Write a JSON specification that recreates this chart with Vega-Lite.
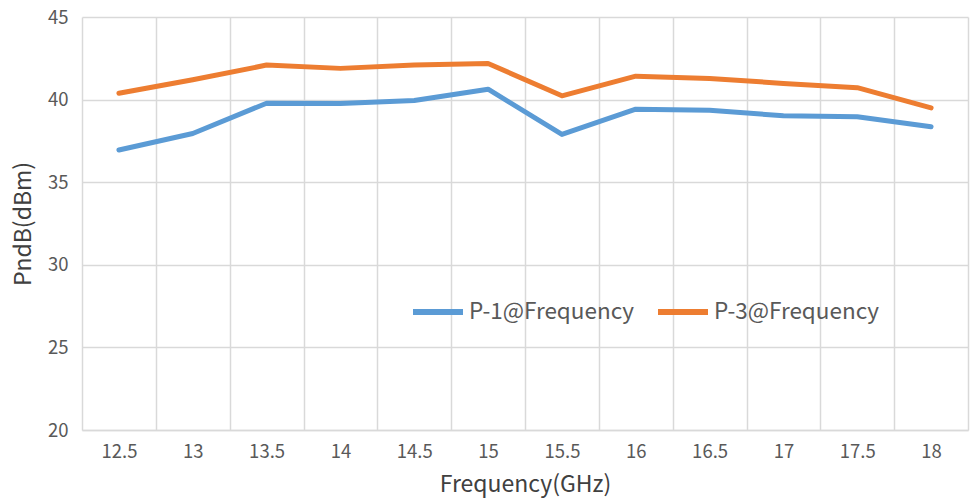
{
  "$schema": "https://vega.github.io/schema/vega-lite/v6.json",
  "autosize": "none",
  "width": 886,
  "height": 413,
  "padding": {"left": 82, "top": 17, "right": 2, "bottom": 71},
  "background": "white",
  "config": {
    "view": {"stroke": null},
    "font": "Noto Sans CJK SC",
    "axis": {"labelFont": "Noto Sans CJK SC", "titleFont": "Noto Sans CJK SC", "labelColor": "#595959", "titleColor": "#404040", "gridColor": "#d9d9d9", "gridWidth": 1.5, "domainColor": "#d9d9d9", "domainWidth": 1.5, "ticks": false}
  },
  "data": {
    "values": [
      {"freq": "12.5", "series": "P-1@Frequency", "value": 36.95},
      {"freq": "13", "series": "P-1@Frequency", "value": 37.95},
      {"freq": "13.5", "series": "P-1@Frequency", "value": 39.78},
      {"freq": "14", "series": "P-1@Frequency", "value": 39.77},
      {"freq": "14.5", "series": "P-1@Frequency", "value": 39.95},
      {"freq": "15", "series": "P-1@Frequency", "value": 40.63},
      {"freq": "15.5", "series": "P-1@Frequency", "value": 37.89},
      {"freq": "16", "series": "P-1@Frequency", "value": 39.42},
      {"freq": "16.5", "series": "P-1@Frequency", "value": 39.36},
      {"freq": "17", "series": "P-1@Frequency", "value": 39.02},
      {"freq": "17.5", "series": "P-1@Frequency", "value": 38.96},
      {"freq": "18", "series": "P-1@Frequency", "value": 38.36},
      {"freq": "12.5", "series": "P-3@Frequency", "value": 40.38},
      {"freq": "13", "series": "P-3@Frequency", "value": 41.2},
      {"freq": "13.5", "series": "P-3@Frequency", "value": 42.09},
      {"freq": "14", "series": "P-3@Frequency", "value": 41.89},
      {"freq": "14.5", "series": "P-3@Frequency", "value": 42.09},
      {"freq": "15", "series": "P-3@Frequency", "value": 42.19},
      {"freq": "15.5", "series": "P-3@Frequency", "value": 40.23},
      {"freq": "16", "series": "P-3@Frequency", "value": 41.42},
      {"freq": "16.5", "series": "P-3@Frequency", "value": 41.28},
      {"freq": "17", "series": "P-3@Frequency", "value": 40.98},
      {"freq": "17.5", "series": "P-3@Frequency", "value": 40.72},
      {"freq": "18", "series": "P-3@Frequency", "value": 39.5}
    ]
  },
  "mark": {"type": "line", "strokeWidth": 5, "strokeCap": "round", "strokeJoin": "round"},
  "encoding": {
    "x": {
      "field": "freq", "type": "ordinal", "sort": null,
      "scale": {"type": "band", "paddingInner": 0, "paddingOuter": 0},
      "axis": {"title": "Frequency(GHz)", "labelAngle": 0, "labelFontSize": 18.5, "labelPadding": 12, "titleFontSize": 23, "titleFontWeight": "normal", "titlePadding": 13, "grid": true, "tickBand": "extent"}
    },
    "y": {
      "field": "value", "type": "quantitative",
      "scale": {"domain": [20, 45], "nice": false, "zero": false},
      "axis": {"title": "PndB(dBm)", "values": [20, 25, 30, 35, 40, 45], "labelFontSize": 18.5, "labelPadding": 14, "titleFontSize": 23, "titleFontWeight": "normal", "titlePadding": 12, "domain": false, "grid": true}
    },
    "color": {
      "field": "series", "type": "nominal",
      "scale": {"domain": ["P-1@Frequency", "P-3@Frequency"], "range": ["#5b9bd5", "#ed7d31"]},
      "legend": {"title": null, "orient": "none", "legendX": 328, "legendY": 267, "direction": "horizontal", "symbolType": "stroke", "symbolSize": 2500, "symbolStrokeWidth": 6, "labelFontSize": 22.5, "labelColor": "#595959", "labelFont": "Noto Sans CJK SC", "labelOffset": 3, "columnPadding": 11, "labelLimit": 300}
    }
  }
}
